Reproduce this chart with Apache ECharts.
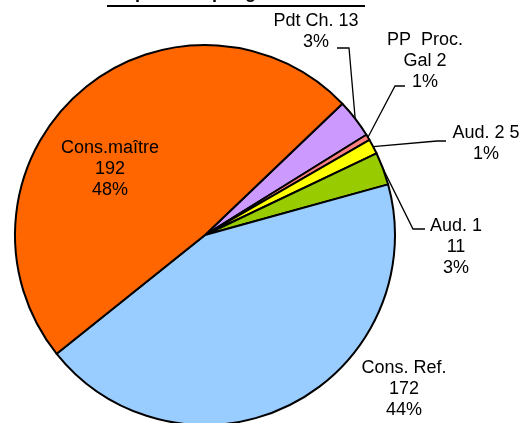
<!DOCTYPE html>
<html>
<head>
<meta charset="utf-8">
<script src="https://cdn.jsdelivr.net/npm/echarts@6/dist/echarts.min.js"></script>
<style>
  html, body { margin: 0; padding: 0; background: #fff; }
  #chart { width: 521px; height: 423px; }
</style>
</head>
<body>
<div id="chart"></div>
<script>
// slices, clockwise from the Pdt Ch. slice
const names = ['Pdt Ch.', 'PP  Proc.\nGal', 'Aud. 2', 'Aud. 1', 'Cons. Ref.', 'Cons.maître']
const values = [13, 2, 5, 11, 172, 192]
const percents = ['3%', '1%', '1%', '3%', '44%', '48%']
const nameSep = [' ', ' ', ' ', '\n', '\n', '\n']
const colors = ['#CC99FF', '#FF8080', '#FFFF00', '#99CC00', '#99CCFF', '#FF6600']

// where each label block sits (centre) and the elbow of its leader line
const labelPos = [
  { x: 316, y: 32, line: [[349, 48], [337, 48]] },
  { x: 425, y: 61, line: [[395, 86], [405, 86]] },
  { x: 486, y: 144, line: [[437, 141], [446, 141]] },
  { x: 456, y: 247, line: [[413, 229], [425, 229]] },
  { x: 404, y: 389, line: null },
  { x: 110, y: 169, line: null }
]

const chart = echarts.init(document.getElementById('chart'))

const seriesData = values.map((v, i) => {
  const item = {
    name: names[i],
    value: v,
    itemStyle: { color: colors[i] }
  }
  if (i === 5) {
    item.label = { position: 'inside' }
    item.labelLine = { show: false }
  } else if (i === 4) {
    item.labelLine = { show: false }
  }
  return item
})

chart.setOption({
  animation: false,
  title: {
    text: 'Répartition par genre d\'affaires',
    left: 107,
    top: -21,
    textStyle: {
      fontFamily: 'Liberation Sans, Arial, sans-serif',
      fontSize: 18,
      fontWeight: 'bold',
      color: '#000'
    }
  },
  graphic: [{
    type: 'rect',
    shape: { x: 107, y: 5, width: 258, height: 2 },
    style: { fill: '#000' }
  }],
  series: [{
    type: 'pie',
    center: [205, 235],
    radius: 190,
    startAngle: 43.7,
    clockwise: true,
    avoidLabelOverlap: false,
    itemStyle: {
      borderColor: '#000',
      borderWidth: 2
    },
    label: {
      show: true,
      position: 'outside',
      color: '#000',
      fontFamily: 'Liberation Sans, Arial, sans-serif',
      fontSize: 18,
      lineHeight: 21,
      align: 'center',
      formatter: p => p.name + nameSep[p.dataIndex] + p.value + '\n' + percents[p.dataIndex]
    },
    labelLine: {
      show: true,
      length: 20,
      length2: 10,
      lineStyle: { color: '#000', width: 1.3 }
    },
    labelLayout: params => {
      const pos = labelPos[params.dataIndex]
      const out = { x: pos.x, y: pos.y, align: 'center', verticalAlign: 'middle' }
      if (pos.line && params.labelLinePoints) {
        out.labelLinePoints = [params.labelLinePoints[0]].concat(pos.line)
      }
      return out
    },
    emphasis: { disabled: true },
    data: seriesData
  }]
})
</script>
</body>
</html>
